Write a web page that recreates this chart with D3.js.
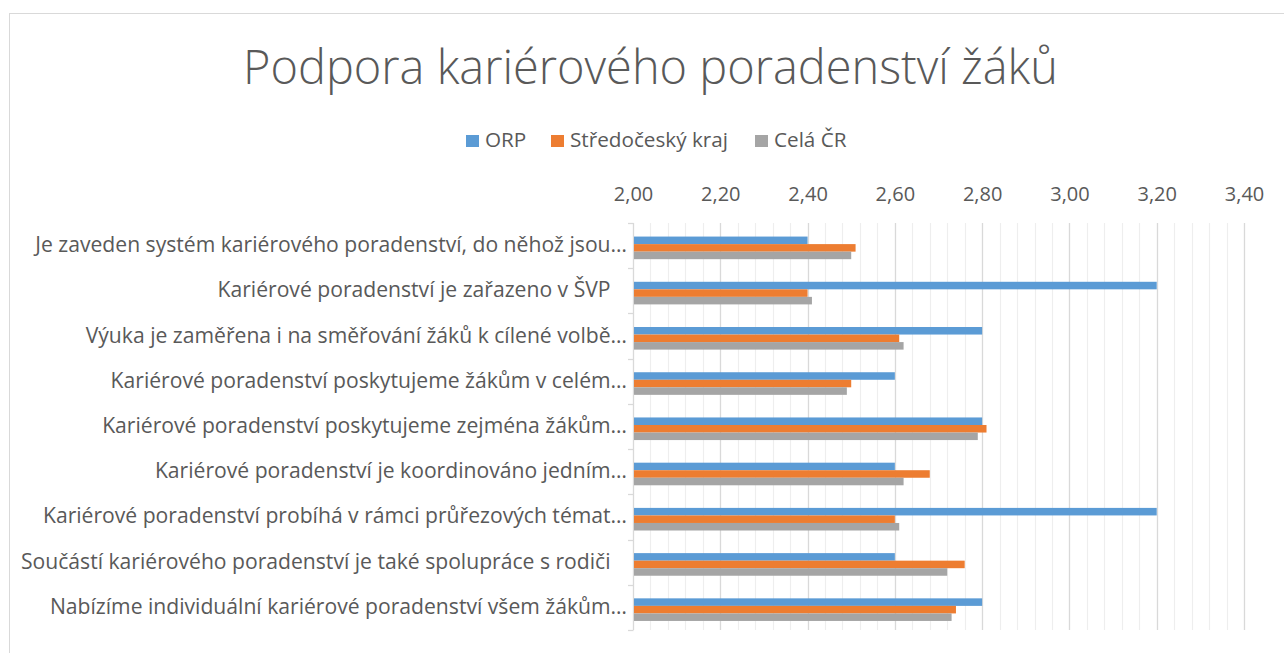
<!DOCTYPE html>
<html>
<head>
<meta charset="utf-8">
<script src="https://cdn.jsdelivr.net/npm/d3@7"></script>
<style>
  html, body { margin: 0; padding: 0; background: #fff; }
  svg { display: block; }
  text { font-family: "Open Sans", "Noto Sans", "DejaVu Sans", sans-serif; fill: #595959; }
</style>
</head>
<body>
<svg id="chart" width="1284" height="653"></svg>
<script>
const title = "Podpora kariérového poradenství žáků";
const categories = [
  "Je zaveden systém kariérového poradenství, do něhož jsou…",
  "Kariérové poradenství je zařazeno v ŠVP ",
  "Výuka je zaměřena i na směřování žáků k cílené volbě…",
  "Kariérové poradenství poskytujeme žákům v celém…",
  "Kariérové poradenství poskytujeme zejména žákům…",
  "Kariérové poradenství je koordinováno jedním…",
  "Kariérové poradenství probíhá v rámci průřezových témat…",
  "Součástí kariérového poradenství je také spolupráce s rodiči ",
  "Nabízíme individuální kariérové poradenství všem žákům…"
];
const seriesNames = ["ORP", "Středočeský kraj", "Celá ČR"];
const orp      = [2.40, 3.20, 2.80, 2.60, 2.80, 2.60, 3.20, 2.60, 2.80];
const stredo   = [2.51, 2.40, 2.61, 2.50, 2.81, 2.68, 2.60, 2.76, 2.74];
const cr       = [2.50, 2.41, 2.62, 2.49, 2.79, 2.62, 2.61, 2.72, 2.73];
const colors   = ["#5b9bd5", "#ed7d31", "#a5a5a5"];
const tickValues = [2.0, 2.2, 2.4, 2.6, 2.8, 3.0, 3.2, 3.4];

const seriesValues = [orp, stredo, cr];
const data = categories.map((c, i) => ({ cat: c, vals: seriesValues.map(s => s[i]) }));

const svg = d3.select("#chart");
const fmt = v => v.toFixed(2).replace(".", ",");

// chart frame
svg.append("rect").attr("x", 9.5).attr("y", 13.5).attr("width", 1300).attr("height", 700)
  .attr("fill", "#fff").attr("stroke", "#d9d9d9").attr("stroke-width", 1);

function fitWidth(sel, target, base) {
  sel.attr("font-size", base);
  const w = sel.node().getComputedTextLength();
  const fs = base * target / w;
  sel.attr("font-size", fs);
  return fs;
}

// title
const t = svg.append("text").attr("x", 650.5).attr("y", 84).attr("text-anchor", "middle")
  .attr("font-weight", 300).text(title);
fitWidth(t, 815, 44);

// scales
const x = d3.scaleLinear().domain([2.0, 3.4]).range([633, 1244]);
const plotTop = 223, plotBottom = 630;
const y = d3.scaleBand().domain(categories).range([plotTop, plotBottom]).paddingInner(0.5).paddingOuter(0.25).align(0.6);
const ySub = d3.scaleBand().domain(seriesNames).range([0, y.bandwidth()]);

// minor gridlines
const minor = d3.range(2.04, 3.4001, 0.04).filter(v => Math.abs(Math.round(v * 5) - v * 5) > 1e-6);
svg.append("g").selectAll("line").data(minor).join("line")
  .attr("x1", d => Math.round(x(d)) + 0.5).attr("x2", d => Math.round(x(d)) + 0.5)
  .attr("y1", plotTop).attr("y2", plotBottom)
  .attr("stroke", "#eeeeee").attr("stroke-width", 1.2);
// major gridlines
svg.append("g").selectAll("line").data(tickValues.slice(1)).join("line")
  .attr("x1", d => Math.round(x(d)) + 0.5).attr("x2", d => Math.round(x(d)) + 0.5)
  .attr("y1", plotTop).attr("y2", plotBottom)
  .attr("stroke", "#d9d9d9").attr("stroke-width", 1.3);

// top axis labels
const xAxis = d3.axisTop(x).tickValues(tickValues).tickFormat(fmt).tickSize(0);
const gx = svg.append("g").attr("transform", "translate(0,201)").call(xAxis);
gx.select(".domain").remove();
gx.selectAll("text").attr("fill", "#595959").attr("font-size", 20)
  .attr("font-family", "\"Open Sans\", sans-serif").attr("dy", 0).attr("y", 0);

// left axis line and ticks
const ga = svg.append("g");
ga.append("line").attr("x1", 633.5).attr("x2", 633.5).attr("y1", plotTop).attr("y2", plotBottom)
  .attr("stroke", "#d9d9d9").attr("stroke-width", 1.3);
const step = (plotBottom - plotTop) / categories.length;
ga.selectAll("line.tk").data(d3.range(categories.length + 1)).join("line").attr("class", "tk")
  .attr("x1", 628).attr("x2", 633.5)
  .attr("y1", i => Math.round(plotTop + i * step) + 0.5).attr("y2", i => Math.round(plotTop + i * step) + 0.5)
  .attr("stroke", "#d9d9d9").attr("stroke-width", 1.3);

// bars
const groups = svg.append("g").selectAll("g").data(data).join("g")
  .attr("transform", d => `translate(0,${y(d.cat)})`);
groups.selectAll("rect").data(d => d.vals.map((v, k) => ({ v, k }))).join("rect")
  .attr("x", x(2.0) + 1)
  .attr("y", d => ySub(seriesNames[d.k]))
  .attr("width", d => x(d.v) - x(2.0) - 1)
  .attr("height", ySub.bandwidth())
  .attr("fill", d => colors[d.k]);

// category labels (trailing spaces kept visible)
const labels = svg.append("g").selectAll("text").data(categories).join("text")
  .attr("x", 627).attr("text-anchor", "end")
  .attr("y", (d, i) => plotTop + (i + 0.5) * step + 6.5)
  .attr("font-size", 17.5)
  .text(d => d.replace(/ $/, "\u00a0\u00a0\u00a0"));
const l0 = labels.filter((d, i) => i === 0);
const lfs = fitWidth(l0, 592, 17.5);
labels.attr("font-size", lfs);

// legend
const legendX = [466, 551, 755];
const lg = svg.append("g").selectAll("g").data(seriesNames).join("g")
  .attr("transform", (d, i) => `translate(${legendX[i]},0)`);
lg.append("rect").attr("x", 0).attr("y", 135).attr("width", 13).attr("height", 12)
  .attr("fill", (d, i) => colors[i]);
const lt = lg.append("text").attr("x", 19).attr("y", 147).attr("font-size", 18.5).text(d => d);
const lt1 = lt.filter((d, i) => i === 1);
const legFs = fitWidth(lt1, 158, 18.5);
lt.attr("font-size", legFs);
</script>
</body>
</html>
